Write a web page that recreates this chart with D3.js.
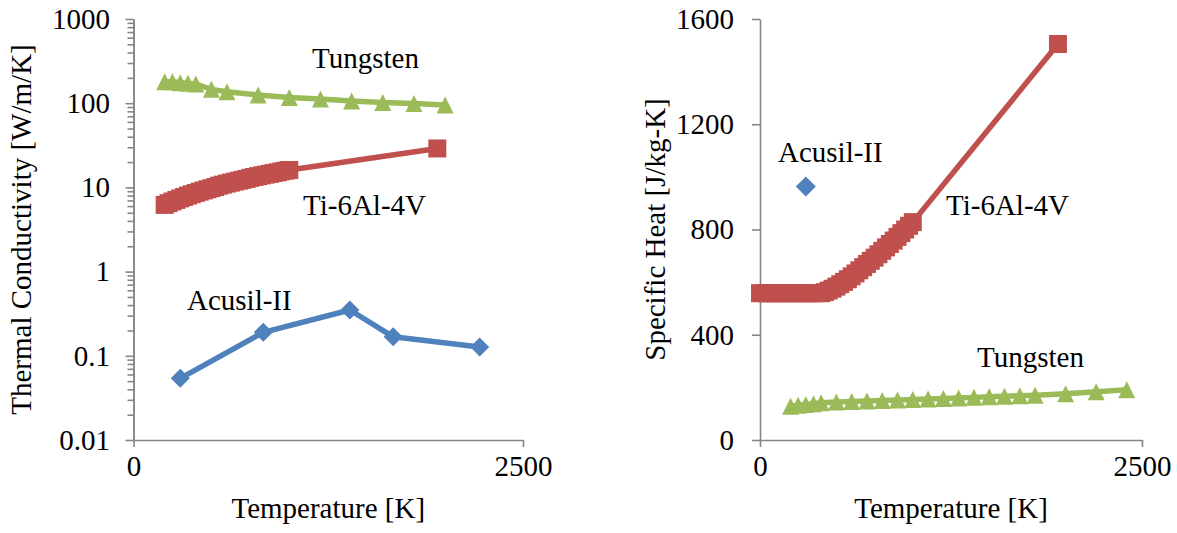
<!DOCTYPE html>
<html>
<head>
<meta charset="utf-8">
<script src="https://cdn.jsdelivr.net/npm/d3@7"></script>
<style>
  body { margin: 0; background: #fff; }
  text { font-family: "Liberation Serif", "Times New Roman", serif; font-size: 29px; fill: #000; }
</style>
</head>
<body>
<svg id="chart" width="1177" height="533"></svg>
<script>
// ---- left panel: thermal conductivity (log scale) ----
var acusilK_T = [300, 833, 1389, 1667, 2222];
var acusilK   = [0.054, 0.19, 0.35, 0.168, 0.127];

var tiK_T = [200, 225, 250, 275, 300, 325, 350, 375, 400, 425, 450, 475, 500, 525, 550, 575, 600,
             625, 650, 675, 700, 725, 750, 775, 800, 825, 850, 875, 900, 925, 950, 975, 1000, 1950];
var tiK   = [6.2, 6.5, 6.8, 7.1, 7.4, 7.7, 8.0, 8.3, 8.6, 8.9, 9.2, 9.5, 9.8, 10.1, 10.5, 10.8, 11.1,
             11.4, 11.7, 12.0, 12.3, 12.6, 13.0, 13.3, 13.6, 13.9, 14.2, 14.5, 14.8, 15.1, 15.5, 15.8, 16.1, 29];

var wK_T = [200, 250, 300, 350, 400, 500, 600, 800, 1000, 1200, 1400, 1600, 1800, 2000];
var wK   = [180, 180, 175, 172, 169, 146, 137, 125, 117, 112, 106, 102, 99, 95];

var leftYTicks = [0.01, 0.1, 1, 10, 100, 1000];
var leftYLabels = ["0.01", "0.1", "1", "10", "100", "1000"];

// ---- right panel: specific heat ----
var acusilC_T = [300];
var acusilC   = [963];

var tiC_T = [0, 25, 50, 75, 100, 125, 150, 175, 200, 225, 250, 275, 300, 325, 350, 375, 400,
             425, 450, 475, 500, 525, 550, 575, 600, 625, 650, 675, 700, 725, 750, 775, 800,
             825, 850, 875, 900, 925, 950, 975, 1000, 1950];
var tiC   = [558, 558, 558, 558, 558, 558, 558, 558, 558, 558, 558, 558, 558, 558, 558, 558, 558,
             562, 568, 575, 583, 592, 601, 611, 622, 633, 645, 657, 669, 681, 693, 706, 719,
             732, 745, 758, 772, 786, 800, 814, 828, 1505];

var wC_T = [200, 250, 300, 350, 400, 500, 600, 700, 800, 900, 1000, 1100, 1200, 1300, 1400,
            1500, 1600, 1700, 1800, 2000, 2200, 2400];
var wC   = [128, 132, 135, 138, 142, 144, 146, 148, 150, 152, 154, 156, 158, 160, 162,
            164, 166, 168, 170, 176, 183, 191];

var rightYTicks = [0, 400, 800, 1200, 1600];
var xTicks = [0, 2500];

var blue = "#4f81bd", red = "#c0504d", green = "#9bbb59", axisGrey = "#868686";

var svg = d3.select("#chart");

function marker(kind, s) {
    var h = s / 2;
    if (kind === "square") return "M" + (-h) + "," + (-h) + "h" + s + "v" + s + "h" + (-s) + "Z";
    if (kind === "diamond") return "M0," + (-h) + "L" + h + ",0L0," + h + "L" + (-h) + ",0Z";
    return "M0," + (-h) + "L" + h + "," + h + "L" + (-h) + "," + h + "Z";
}

function drawSeries(g, x, y, xs, ys, color, kind, size, withLine) {
    var pts = d3.zip(xs, ys);
    if (withLine) {
        var line = d3.line()
            .x(function(d) { return x(d[0]); })
            .y(function(d) { return y(d[1]); });
        g.append("path")
            .attr("d", line(pts))
            .attr("fill", "none")
            .attr("stroke", color)
            .attr("stroke-width", 5.5)
            .attr("stroke-linejoin", "round");
    }
    g.selectAll(null)
        .data(pts)
        .enter().append("path")
        .attr("transform", function(d) { return "translate(" + x(d[0]) + "," + y(d[1]) + ")"; })
        .attr("d", marker(kind, size))
        .attr("fill", color);
}

function styleAxis(a) {
    a.select(".domain").attr("stroke", axisGrey).attr("stroke-width", 1.6);
    a.selectAll(".tick line").attr("stroke", axisGrey).attr("stroke-width", 1.6);
    a.selectAll("text").attr("font-family", null).attr("font-size", null).attr("fill", null);
}

// ---------- left panel ----------
var xL = d3.scaleLinear().domain([0, 2500]).range([133.5, 523]);
var yL = d3.scaleLog().domain([0.01, 1000]).range([440, 19]);

var minor = [];
leftYTicks.slice(0, -1).forEach(function(t) {
    for (var k = 2; k <= 9; k++) minor.push(t * k);
});

var gL = svg.append("g");

var yAxL = gL.append("g")
    .attr("transform", "translate(" + xL(0) + ",0)")
    .call(d3.axisLeft(yL).tickValues(minor).tickSize(6).tickSizeOuter(0).tickFormat(""));
yAxL.selectAll("text").remove();
styleAxis(yAxL);

var yAxL2 = gL.append("g")
    .attr("transform", "translate(" + xL(0) + ",0)")
    .call(d3.axisLeft(yL).tickValues(leftYTicks).tickSize(8).tickSizeOuter(0).tickPadding(15.5)
        .tickFormat(function(d, i) { return leftYLabels[i]; }));
styleAxis(yAxL2);

var xAxL = gL.append("g")
    .attr("transform", "translate(0," + yL(0.01) + ")")
    .call(d3.axisBottom(xL).tickValues(xTicks).tickSize(7).tickSizeOuter(0).tickPadding(8)
        .tickFormat(d3.format("d")));
styleAxis(xAxL);

drawSeries(gL, xL, yL, acusilK_T, acusilK, blue, "diamond", 19, true);
drawSeries(gL, xL, yL, tiK_T, tiK, red, "square", 18, true);
drawSeries(gL, xL, yL, wK_T, wK, green, "triangle", 17, true);

gL.append("text").attr("x", 312).attr("y", 68).text("Tungsten");
gL.append("text").attr("x", 303).attr("y", 215).text("Ti-6Al-4V");
gL.append("text").attr("x", 187).attr("y", 310).text("Acusil-II");

gL.append("text").attr("x", (xL.range()[0] + xL.range()[1]) / 2).attr("y", 518)
    .attr("text-anchor", "middle").text("Temperature [K]");
gL.append("text").attr("transform", "translate(31,229.5) rotate(-90)")
    .attr("text-anchor", "middle").text("Thermal Conductivity [W/m/K]");

// ---------- right panel ----------
var xR = d3.scaleLinear().domain([0, 2500]).range([760, 1142]);
var yR = d3.scaleLinear().domain([0, 1600]).range([440, 19]);

var gR = svg.append("g");

var yAxR = gR.append("g")
    .attr("transform", "translate(" + xR(0) + ",0)")
    .call(d3.axisLeft(yR).tickValues(rightYTicks).tickSize(8).tickSizeOuter(0).tickPadding(18)
        .tickFormat(d3.format("d")));
styleAxis(yAxR);

var xAxR = gR.append("g")
    .attr("transform", "translate(0," + yR(0) + ")")
    .call(d3.axisBottom(xR).tickValues(xTicks).tickSize(7).tickSizeOuter(0).tickPadding(8)
        .tickFormat(d3.format("d")));
styleAxis(xAxR);

drawSeries(gR, xR, yR, acusilC_T, acusilC, blue, "diamond", 20, false);
drawSeries(gR, xR, yR, tiC_T, tiC, red, "square", 18, true);
drawSeries(gR, xR, yR, wC_T, wC, green, "triangle", 17, true);

gR.append("text").attr("x", 778).attr("y", 162).text("Acusil-II");
gR.append("text").attr("x", 946).attr("y", 215).text("Ti-6Al-4V");
gR.append("text").attr("x", 977).attr("y", 367).text("Tungsten");

gR.append("text").attr("x", (xR.range()[0] + xR.range()[1]) / 2).attr("y", 518)
    .attr("text-anchor", "middle").text("Temperature [K]");
gR.append("text").attr("transform", "translate(665,229.5) rotate(-90)")
    .attr("text-anchor", "middle").text("Specific Heat [J/kg-K]");
</script>
</body>
</html>
